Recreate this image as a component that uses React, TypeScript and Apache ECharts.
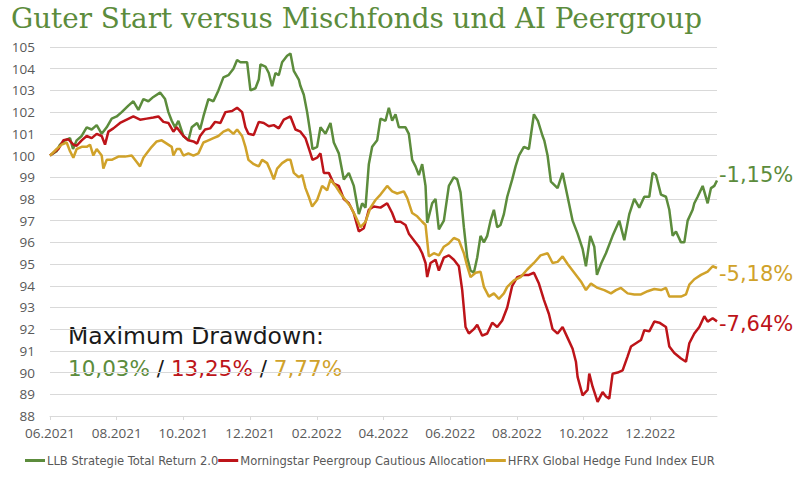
import React, { useEffect, useRef } from "react";
import * as echarts from "echarts";

// x values: months since 06.2021 (0 = 06.2021, 20 = 02.2023)
const seriesNames = [
  "LLB Strategie Total Return 2.0",
  "Morningstar Peergroup Cautious Allocation",
  "HFRX Global Hedge Fund Index EUR",
];
const endLabels = ["-1,15%", "-7,64%", "-5,18%"];
const xTickLabels = ["06.2021", "08.2021", "10.2021", "12.2021", "02.2022", "04.2022", "06.2022", "08.2022", "10.2022", "12.2022"];
const yMin = 88;
const yMax = 105;

const greenMonths = [0,0.2,0.3,0.45,0.6,0.69,0.8,0.95,1.1,1.25,1.4,1.55,1.7,1.85,2.0,2.15,2.35,2.5,2.65,2.8,2.95,3.1,3.3,3.45,3.55,3.65,3.75,3.85,4.0,4.15,4.25,4.41,4.5,4.6,4.75,4.9,5.05,5.2,5.35,5.5,5.61,5.71,5.8,5.91,6.01,6.16,6.26,6.31,6.46,6.56,6.66,6.76,6.86,6.96,7.11,7.21,7.31,7.46,7.51,7.61,7.71,7.81,7.87,8.01,8.11,8.26,8.41,8.51,8.66,8.81,8.96,9.11,9.26,9.36,9.46,9.56,9.66,9.81,9.91,10.06,10.16,10.26,10.36,10.46,10.66,10.76,10.86,10.96,11.06,11.16,11.26,11.31,11.46,11.56,11.66,11.81,11.96,12.11,12.21,12.31,12.41,12.51,12.61,12.71,12.81,12.91,13.01,13.11,13.21,13.31,13.41,13.51,13.61,13.71,13.86,13.96,14.06,14.21,14.36,14.51,14.63,14.77,14.82,14.92,15.02,15.22,15.37,15.52,15.67,15.82,15.97,16.07,16.2,16.32,16.4,16.52,16.67,16.87,17.07,17.22,17.37,17.52,17.67,17.82,17.97,18.07,18.17,18.32,18.47,18.57,18.67,18.77,18.92,19.02,19.12,19.27,19.32,19.42,19.57,19.72,19.82,19.92,20.0];
const greenValues = [100,100.2,100.5,100.7,100.8,100.3,100.7,100.9,101.3,101.2,101.4,101.0,101.3,101.7,101.8,102.0,102.3,102.5,102.1,102.6,102.5,102.7,102.9,102.6,102.0,101.6,101.3,101.6,100.9,100.7,101.3,101.5,101.2,101.8,102.6,102.5,103.0,103.6,103.7,104.0,104.4,104.3,104.3,104.3,103.0,103.1,103.5,104.2,104.1,103.8,103.2,103.8,103.7,104.3,104.6,104.7,103.9,103.5,103.2,102.8,102.0,101.0,100.3,100.4,101.3,101.0,101.5,100.6,100.1,98.9,99.2,98.6,97.3,97.8,97.6,99.6,100.4,100.7,101.7,101.6,102.2,101.6,101.9,101.3,101.3,101.0,99.8,99.5,99.1,99.6,98.6,96.9,97.8,98.0,96.6,97.0,98.6,99.0,98.9,98.3,96.7,95.3,94.7,94.6,95.3,96.3,96.0,96.3,97.0,97.5,96.7,96.8,97.3,98.1,98.9,99.5,100.0,100.4,100.3,101.9,101.6,100.9,100.7,100.0,98.8,98.5,99.2,98.1,97.0,96.4,95.7,94.9,96.3,95.8,94.5,95.0,95.5,96.3,97.0,96.1,97.3,98.0,97.6,98.1,98.1,99.2,99.1,98.2,98.1,97.5,96.3,96.5,96.0,96.0,97.0,97.5,97.8,98.1,98.6,97.8,98.5,98.6,98.85];

const redMonths = [0,0.25,0.4,0.55,0.7,0.8,0.95,1.1,1.25,1.4,1.55,1.65,1.75,1.9,2.1,2.3,2.5,2.7,2.9,3.1,3.25,3.4,3.55,3.7,3.8,3.9,4.0,4.15,4.3,4.41,4.5,4.65,4.8,4.95,5.11,5.26,5.46,5.61,5.76,5.86,5.95,6.11,6.26,6.41,6.56,6.71,6.86,7.01,7.21,7.36,7.51,7.66,7.81,7.87,8.01,8.11,8.21,8.36,8.51,8.66,8.81,8.96,9.11,9.26,9.41,9.56,9.71,9.91,10.11,10.26,10.36,10.51,10.66,10.76,10.91,11.06,11.16,11.26,11.31,11.41,11.56,11.66,11.81,11.96,12.11,12.26,12.36,12.46,12.56,12.71,12.81,12.96,13.11,13.26,13.41,13.56,13.71,13.86,14.01,14.21,14.36,14.51,14.66,14.81,14.96,15.07,15.22,15.37,15.52,15.67,15.77,15.82,15.97,16.12,16.17,16.27,16.42,16.57,16.67,16.77,16.87,17.02,17.17,17.32,17.42,17.57,17.72,17.82,17.97,18.12,18.27,18.47,18.57,18.72,18.92,19.07,19.17,19.32,19.47,19.62,19.72,19.87,20.0];
const redValues = [100,100.3,100.7,100.75,100.5,100.45,100.7,100.9,100.8,101.0,100.9,100.5,101.1,101.25,101.5,101.65,101.8,101.65,101.7,101.75,101.8,101.55,101.5,101.1,101.3,101.1,100.9,100.7,100.65,100.55,100.9,101.2,101.25,101.55,101.5,102.0,102.05,102.2,102.0,101.3,101.0,100.95,101.55,101.5,101.35,101.4,101.25,101.65,101.8,101.2,101.1,100.8,100.1,99.8,99.9,100.1,99.2,99.2,98.7,98.6,98.0,97.8,97.35,96.5,96.65,97.5,97.65,97.6,97.8,97.35,96.95,96.95,96.8,96.4,96.1,95.8,95.5,95.05,94.4,95.05,95.2,94.7,95.3,95.4,95.2,94.9,93.8,92.1,91.8,92.0,92.2,91.7,91.8,92.3,92.1,92.4,93.0,94.0,94.4,94.5,94.5,94.6,94.1,93.35,92.7,92.0,91.8,92.1,91.6,91.1,90.5,89.8,88.95,89.2,89.95,89.35,88.65,89.1,88.9,88.8,89.95,90.0,90.1,90.75,91.2,91.35,91.5,91.95,91.9,92.35,92.3,92.1,91.2,90.9,90.65,90.5,91.35,91.8,92.1,92.6,92.35,92.5,92.36];

const goldMonths = [0,0.2,0.35,0.5,0.6,0.7,0.8,0.95,1.1,1.2,1.3,1.4,1.55,1.6,1.7,1.85,2.05,2.25,2.45,2.6,2.7,2.8,2.9,3.05,3.2,3.35,3.5,3.65,3.7,3.8,3.9,4.0,4.15,4.3,4.45,4.6,4.75,4.9,5.05,5.2,5.35,5.5,5.61,5.76,5.86,5.95,6.11,6.26,6.36,6.51,6.61,6.71,6.81,6.96,7.11,7.21,7.31,7.46,7.56,7.66,7.76,7.86,8.01,8.16,8.31,8.41,8.56,8.71,8.86,9.01,9.16,9.31,9.46,9.61,9.76,9.91,10.11,10.26,10.41,10.61,10.71,10.86,11.01,11.16,11.26,11.36,11.51,11.66,11.81,11.96,12.11,12.26,12.41,12.51,12.61,12.76,12.91,13.01,13.16,13.31,13.46,13.61,13.71,13.91,14.11,14.31,14.51,14.71,14.92,15.07,15.22,15.37,15.52,15.72,15.92,16.07,16.22,16.42,16.62,16.82,16.97,17.12,17.32,17.52,17.72,17.92,18.12,18.32,18.47,18.57,18.72,18.92,19.07,19.17,19.32,19.52,19.72,19.87,20.0];
const goldValues = [100,100.3,100.5,100.6,100.2,99.9,100.3,100.4,100.4,100.5,100.0,100.3,100.0,99.4,99.8,99.8,99.95,99.95,100.0,99.7,99.5,99.9,100.1,100.4,100.65,100.7,100.55,100.4,100.0,100.3,100.3,100.0,100.1,100.0,100.1,100.6,100.7,100.8,100.9,101.1,101.2,101.0,101.2,100.9,100.4,99.8,99.6,99.5,99.8,99.65,99.3,98.9,99.4,99.65,99.8,99.8,99.2,99.0,99.1,98.5,98.1,97.65,97.95,98.6,98.4,98.9,98.6,98.25,97.95,97.65,97.2,96.7,96.95,97.6,97.95,98.2,98.6,98.35,98.25,98.35,98.05,97.35,97.2,96.95,96.8,95.35,95.5,95.4,95.8,95.95,96.2,96.1,95.5,94.9,94.4,94.6,94.65,93.95,93.5,93.65,93.4,93.65,93.95,94.25,94.4,94.75,95.05,95.4,95.5,95.05,95.1,95.35,95.0,94.6,94.2,93.8,94.1,93.9,93.8,93.65,93.8,93.9,93.65,93.6,93.6,93.75,93.85,93.8,93.9,93.5,93.5,93.5,93.6,94.05,94.3,94.5,94.65,94.9,94.82];

const drawdownTitle = "Maximum Drawdown:";
const drawdownValues = ["10,03%", "13,25%", "7,77%"];
const chartTitle = "Guter Start versus Mischfonds und AI Peergroup";

const colors = ["#5c8c3c", "#bd1419", "#d0a22a"];
const sansFont = "'DejaVu Sans', sans-serif";

function zip(xs: number[], ys: number[]) {
  return xs.map((x, i) => [x, ys[i]]);
}

export default function App() {
  const ref = useRef<HTMLDivElement>(null);
  useEffect(() => {
    if (!ref.current) return;
    const chart = echarts.init(ref.current, undefined, { renderer: "svg" });
    const datasets = [zip(greenMonths, greenValues), zip(redMonths, redValues), zip(goldMonths, goldValues)];
    const endOffsets = [[0, -5], [0, 3], [0, 6]];
    chart.setOption({
      animation: false,
      backgroundColor: "#ffffff",
      title: {
        text: chartTitle,
        left: 11,
        top: 4,
        padding: 0,
        textStyle: { color: "#5c8c3c", fontFamily: "'DejaVu Serif', serif", fontSize: 27.8, fontWeight: "normal" },
      },
      grid: { left: 50, right: 83, top: 47, bottom: 63 },
      legend: {
        left: 25,
        top: 454,
        padding: 0,
        itemGap: 0,
        itemWidth: 20,
        itemHeight: 3,
        icon: "rect",
        textStyle: { color: "#595959", fontFamily: "'DejaVu Sans Condensed', 'DejaVu Sans', sans-serif", fontSize: 12.8, padding: [0, 0, 0, -3] },
        data: seriesNames,
      },
      xAxis: {
        type: "value",
        min: 0,
        max: 20,
        interval: 2,
        axisLine: { show: true, lineStyle: { color: "#d9d9d9" } },
        axisTick: { show: true, length: 4, lineStyle: { color: "#d9d9d9" } },
        splitLine: { show: false },
        axisLabel: {
          color: "#595959",
          fontSize: 13.5,
          fontFamily: "'Open Sans', sans-serif",
          margin: 10,
          showMaxLabel: false,
          formatter: (v: number) => xTickLabels[Math.round(v / 2)] ?? "",
        },
      },
      yAxis: {
        type: "value",
        min: yMin,
        max: yMax,
        interval: 1,
        axisLine: { show: false },
        axisTick: { show: false },
        splitLine: { lineStyle: { color: "#d9d9d9" } },
        axisLabel: { color: "#595959", fontSize: 13.5, fontFamily: "'Open Sans', sans-serif", margin: 15 },
      },
      series: datasets.map((d, i) => ({
        name: seriesNames[i],
        type: "line",
        data: d,
        showSymbol: false,
        symbol: "none",
        lineStyle: { color: colors[i], width: 2.5 },
        itemStyle: { color: colors[i] },
        endLabel: {
          show: true,
          formatter: endLabels[i],
          color: colors[i],
          fontSize: 21,
          fontFamily: sansFont,
          distance: 2,
          offset: endOffsets[i],
        },
      })),
      graphic: [
        {
          type: "text",
          left: 68,
          top: 324,
          style: { text: drawdownTitle, fill: "#1a1a1a", fontSize: 23.5, fontFamily: sansFont },
        },
        {
          type: "text",
          left: 68,
          top: 357,
          style: {
            text: `{g|${drawdownValues[0]}} {k|/} {r|${drawdownValues[1]}} {k|/} {y|${drawdownValues[2]}}`,
            fontSize: 21.5,
            fontFamily: sansFont,
            rich: {
              g: { fill: colors[0], fontSize: 21.5, fontFamily: sansFont },
              r: { fill: colors[1], fontSize: 21.5, fontFamily: sansFont },
              y: { fill: colors[2], fontSize: 21.5, fontFamily: sansFont },
              k: { fill: "#1a1a1a", fontSize: 21.5, fontFamily: sansFont },
            },
          },
        },
      ],
    });
    return () => chart.dispose();
  }, []);
  return <div ref={ref} style={{ position: "fixed", left: 0, top: 0, width: 800, height: 479 }} />;
}
